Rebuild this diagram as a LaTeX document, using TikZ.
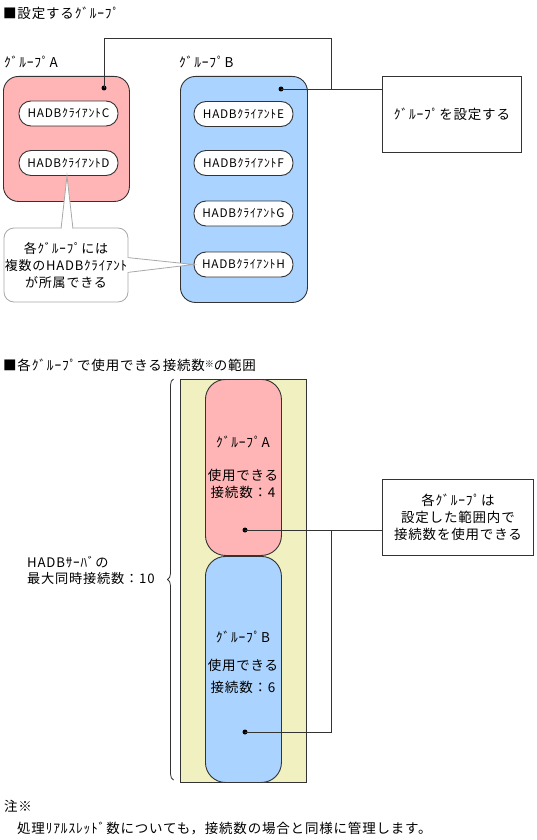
\documentclass[tikz,border=0pt]{standalone}
\usepackage{fontspec}
\setmainfont[LetterSpace=6]{Noto Sans CJK JP}
\usetikzlibrary{decorations.pathreplacing}
\definecolor{pinkA}{HTML}{FFB5B5}
\definecolor{blueB}{HTML}{AAD4FF}
\definecolor{yel}{HTML}{F0F0C0}
\definecolor{edge}{HTML}{333333}
\definecolor{callgray}{HTML}{A8A8A8}
\tikzset{
 txt/.style={font=\fontsize{13.5}{17}\selectfont, inner sep=0pt, align=center},
 grpbox/.style={draw=edge, line width=0.9pt, rounded corners=15pt, anchor=north west, inner sep=0pt},
 pill/.style={draw=edge, line width=0.9pt, fill=white, rounded corners=12pt, minimum width=99pt, minimum height=25pt, inner sep=0pt, font=\fontsize{11.8}{14}\selectfont},
 bigpill/.style={draw=edge, line width=0.9pt, rounded corners=20pt, anchor=north west, inner sep=0pt, minimum width=76pt},
 dot/.style={circle, fill=black, inner sep=0pt, minimum size=5pt},
 conn/.style={draw=edge, line width=0.8pt},
 plainbox/.style={draw=edge, line width=0.9pt, fill=white, anchor=north west, inner sep=0pt},
 callline/.style={draw=callgray, line width=0.8pt, fill=white},
}
\begin{document}
\begin{tikzpicture}[x=1pt,y=-1pt]
\useasboundingbox (0,0) rectangle (536,840);
% ---------- top section ----------
\node[txt, anchor=west] (t1) at (3,13) {■設定するｸﾞﾙｰﾌﾟ};
\node[txt, anchor=west] (la) at (4,62) {ｸﾞﾙｰﾌﾟA};
\node[txt, anchor=west] (lb) at (179,62) {ｸﾞﾙｰﾌﾟB};
\node[grpbox, fill=pinkA, minimum width=126pt, minimum height=125pt] (gA) at (3,76) {};
\node[grpbox, fill=blueB, minimum width=127pt, minimum height=226pt] (gB) at (180,76) {};
\node[pill] (cC) at (68.5,113.5) {HADBｸﾗｲｱﾝﾄC};
\node[pill] (cD) at (68.5,163) {HADBｸﾗｲｱﾝﾄD};
\node[pill] (cE) at (243.5,114) {HADBｸﾗｲｱﾝﾄE};
\node[pill] (cF) at (243.5,163) {HADBｸﾗｲｱﾝﾄF};
\node[pill] (cG) at (243.5,213.5) {HADBｸﾗｲｱﾝﾄG};
\node[pill] (cH) at (243.5,264.5) {HADBｸﾗｲｱﾝﾄH};
\node[dot] (dA) at (104,88) {};
\node[dot] (dB) at (281,89) {};
\node[plainbox, minimum width=139pt, minimum height=76pt] (setbox) at (382,76) {};
\node[txt] (settxt) at (setbox.center) {ｸﾞﾙｰﾌﾟを設定する};
\coordinate (c1) at (331,38);
\coordinate (j1) at (331,89);
\draw[conn] (dA.center) |- (c1) -- (j1);
\draw[conn] (dB.center) -- (dB -| setbox.west);
% callout
\draw[callline] (61,229) -- ([xshift=-1.5pt]cD.south) -- (73,229);
\draw[callline] (127,257.5) -- (cH.west) -- (127,272.5);
\node[callline, rounded corners=10pt, minimum width=124pt, minimum height=74pt, inner sep=0pt] (call) at (66,265) {};
\fill[white] (61.9,226.6) rectangle (72.2,229.6);
\fill[white] (125.6,258.2) rectangle (128.6,271.8);
\node[txt, font=\fontsize{13}{17}\selectfont] (calltxt) at (call.center) {各ｸﾞﾙｰﾌﾟには\\複数のHADBｸﾗｲｱﾝﾄ\\が所属できる};
% ---------- bottom section ----------
\node[txt, anchor=west] (t2) at (3,365) {■各ｸﾞﾙｰﾌﾟで使用できる接続数{\fontsize{9}{9}\selectfont\raisebox{3pt}{※}}の範囲};
\node[draw=edge, line width=0.9pt, fill=yel, anchor=north west, inner sep=0pt, minimum width=126pt, minimum height=403pt] (yb) at (180,379) {};
\node[bigpill, fill=pinkA, minimum height=176pt] (pA) at (205,379) {};
\node[bigpill, fill=blueB, minimum height=226pt] (pB) at (205,556) {};
\node[txt] (pAt1) at (243,442) {ｸﾞﾙｰﾌﾟA};
\node[txt] (pAt2) at (243,483.5) {使用できる\\接続数：4};
\node[txt] (pBt1) at (243,637) {ｸﾞﾙｰﾌﾟB};
\node[txt] (pBt2) at (243,676) {使用できる\\[5pt]接続数：6};
\node[dot] (dpA) at (245,530) {};
\node[dot] (dpB) at (245,732) {};
\node[plainbox, minimum width=151pt, minimum height=76pt] (rbox) at (382,479) {};
\node[txt] (rtxt) at (rbox.center) {各ｸﾞﾙｰﾌﾟは\\設定した範囲内で\\接続数を使用できる};
\coordinate (j2) at (331,530);
\draw[conn] (dpA.center) -- (dpA -| rbox.west);
\draw[conn] (dpB.center) -| (j2);
\draw[draw=edge, line width=0.8pt, decorate, decoration={brace, amplitude=6pt}] (173.5,780) -- (173.5,379);
\node[txt, anchor=west, align=left, font=\fontsize{13.2}{16}\selectfont] (srv) at (27,570) {HADBｻｰﾊﾞの\\最大同時接続数：10};
% ---------- note ----------
\node[txt, anchor=west] (n1) at (4,806) {注※};
\node[txt, anchor=west] (n2) at (17,828) {処理ﾘｱﾙｽﾚｯﾄﾞ数についても，接続数の場合と同様に管理します。};
\end{tikzpicture}
\end{document}
